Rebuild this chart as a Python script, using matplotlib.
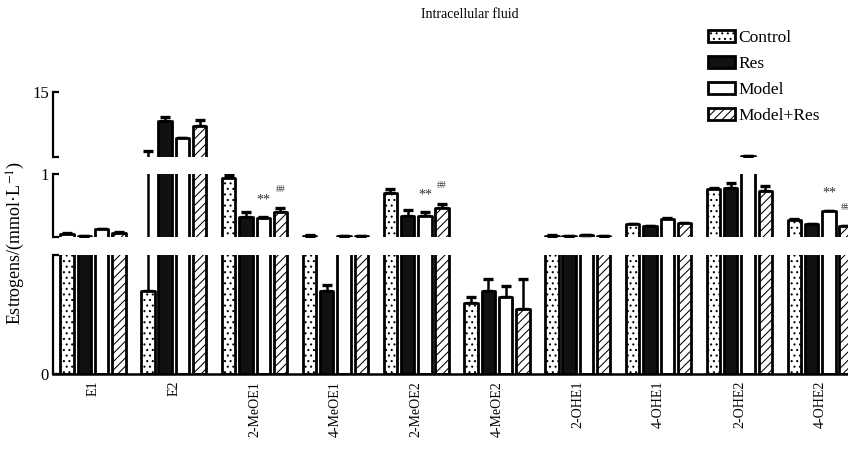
import matplotlib
matplotlib.use("Agg")
import matplotlib.pyplot as plt
import numpy as np
from matplotlib.patches import Patch

plt.rcParams['font.family'] = ['Liberation Serif', 'DejaVu Serif']
plt.rcParams['mathtext.fontset'] = 'stix'
plt.rcParams['hatch.linewidth'] = 0.75

categories = ['E1', 'E2', '2-MeOE1', '4-MeOE1', '2-MeOE2', '4-MeOE2',
              '2-OHE1', '4-OHE1', '2-OHE2', '4-OHE2']
series_names = ['Control', 'Res', 'Model', 'Model+Res']

control = [0.524, 0.070, 0.968, 0.51, 0.849, 0.0597, 0.51, 0.603, 0.881, 0.635]
res = [0.508, 9.65, 0.659, 0.0698, 0.667, 0.0698, 0.505, 0.587, 0.889, 0.603]
model = [0.563, 6.5, 0.651, 0.505, 0.667, 0.0647, 0.515, 0.643, 3.2, 0.706]
model_res = [0.532, 8.72, 0.698, 0.505, 0.73, 0.0546, 0.505, 0.611, 0.865, 0.587]

control_err = [0.004, 4.03, 0.025, 0.004, 0.03, 0.005, 0.004, 0.004, 0.01, 0.004]
res_err = [0.003, 0.74, 0.04, 0.005, 0.05, 0.01, 0.003, 0.004, 0.04, 0.004]
model_err = [0.004, 0.0, 0.005, 0.003, 0.03, 0.009, 0.004, 0.004, 0.0, 0.004]
model_res_err = [0.004, 1.1, 0.03, 0.003, 0.03, 0.025, 0.003, 0.004, 0.04, 0.004]

sig_model = ['', '', '**', '', '**', '', '', '', '', '**']
sig_model_res = ['', '', '##', '', '##', '', '', '', '', '##']

# axis segments (broken axis)
seg_bottom = (0, 0.1)
seg_middle = (0.5, 1.0)
seg_top = (3.0, 15.0)

values = [control, res, model, model_res]
errors = [control_err, res_err, model_err, model_res_err]
styles = [dict(facecolor='white', hatch='...'),
          dict(facecolor='#111111', hatch=None),
          dict(facecolor='white', hatch=None),
          dict(facecolor='white', hatch='////')]

W, H = 848, 449
fig = plt.figure(figsize=(W / 100, H / 100), dpi=100)

def frac_rect(left_px, top_px, right_px, bottom_px):
    return [left_px / W, 1 - bottom_px / H, (right_px - left_px) / W, (bottom_px - top_px) / H]

ax_top = fig.add_axes(frac_rect(53, 92, 848, 157))
ax_mid = fig.add_axes(frac_rect(53, 174, 848, 237))
ax_bot = fig.add_axes(frac_rect(53, 255, 848, 374))

x = np.arange(len(categories))
offsets = [-0.32, -0.107, 0.107, 0.32]
bw = 0.165
xlim = (-0.495, 9.344)

for ax, seg in [(ax_top, seg_top), (ax_mid, seg_middle), (ax_bot, seg_bottom)]:
    for vals, errs, st, off in zip(values, errors, styles, offsets):
        bars = ax.bar(x + off, vals, width=bw, edgecolor='black', linewidth=2.0,
                      facecolor=st['facecolor'], hatch=st['hatch'], zorder=2)
        for b in bars:
            b.set_joinstyle('round')
        ax.errorbar(x + off, vals, yerr=[np.zeros(len(errs)), errs], fmt='none',
                    ecolor='black', elinewidth=1.8, capsize=3.5, capthick=2.4, zorder=1)
    ax.set_ylim(*seg)
    ax.set_xlim(*xlim)
    for s in ['top', 'right', 'bottom']:
        ax.spines[s].set_visible(False)
    ax.spines['left'].set_linewidth(1.6)
    ax.set_yticks(list(seg))
    ax.tick_params(axis='y', direction='in', length=4, width=1.6, pad=3, labelsize=12)
    ax.set_xticks([])

ax_top.set_yticklabels(['', '15'])
ax_mid.set_yticklabels(['', '1'])
ax_bot.set_yticklabels(['0', ''])

ax_bot.spines['bottom'].set_visible(True)
ax_bot.spines['bottom'].set_linewidth(1.8)
ax_bot.set_xticks(x)
ax_bot.set_xticklabels(categories, rotation=90, fontsize=10)
ax_bot.tick_params(axis='x', length=0, pad=5)

# significance marks
for i in range(len(categories)):
    if sig_model[i]:
        ax_mid.annotate(sig_model[i], (x[i] + offsets[2], model[i] + model_err[i]),
                        xytext=(0, 8), textcoords='offset points', ha='center',
                        va='bottom', fontsize=10, color='#333333')
    if sig_model_res[i]:
        ax_mid.annotate(sig_model_res[i], (x[i] + offsets[3], model_res[i] + model_res_err[i]),
                        xytext=(0, 10), textcoords='offset points', ha='center',
                        va='bottom', fontsize=7, color='#333333')

fig.text(470 / W, 1 - 15 / H, 'Intracellular fluid', ha='center', va='center', fontsize=10)
fig.text(16 / W, 1 - 243 / H, 'Estrogens/(mmol·L$^{-1}$)', rotation=90,
         ha='center', va='center', fontsize=13)

handles = [Patch(facecolor=st['facecolor'], hatch=st['hatch'], edgecolor='black',
                 linewidth=2.0) for st in styles]
fig.legend(handles, series_names, loc='upper left',
           bbox_to_anchor=(708 / W, 1 - 30 / H), frameon=False, fontsize=12.5,
           handlelength=1.55, handleheight=0.7, handletextpad=0.2, labelspacing=0.56,
           borderaxespad=0, borderpad=0)

fig.savefig('out.png', dpi=100)
